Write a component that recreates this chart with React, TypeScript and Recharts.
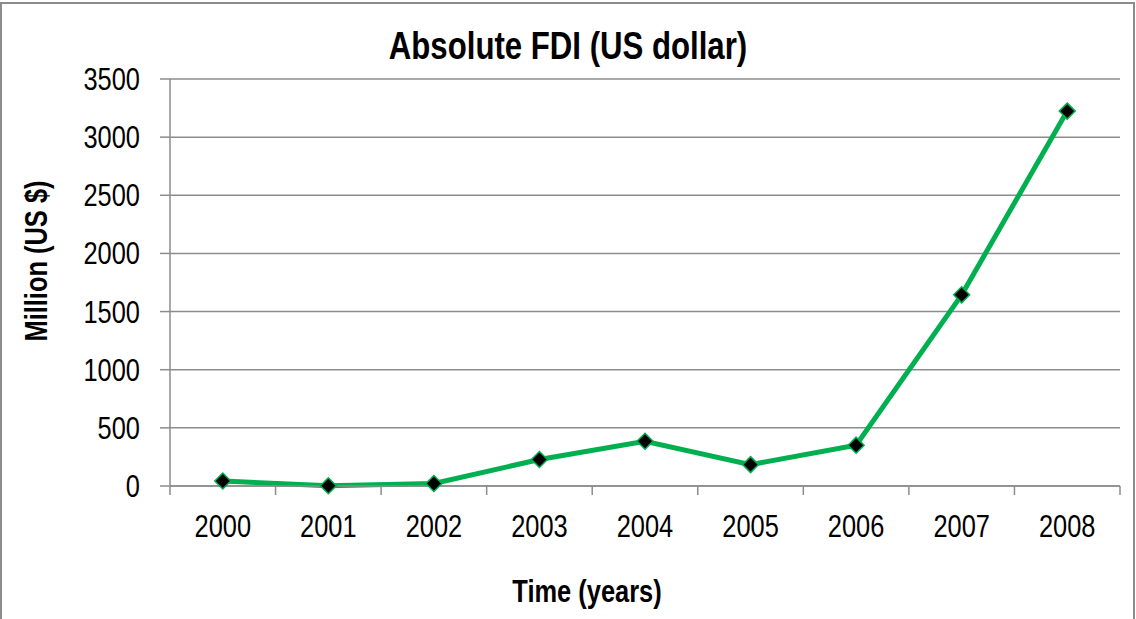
import { LineChart, Line, XAxis, YAxis, CartesianGrid } from "recharts";

const years = ["2000", "2001", "2002", "2003", "2004", "2005", "2006", "2007", "2008"];
const fdi = [43, 2, 21, 228, 385, 184, 351, 1644, 3224];
const yTicks = [0, 500, 1000, 1500, 2000, 2500, 3000, 3500];

const rows = years.map((year, i) => ({ year, pos: i + 0.5, fdi: fdi[i] }));
// tick marks at category edges, labels at category centres
const xTicks = years
  .flatMap((_, i) => [i, i + 0.5])
  .concat([years.length]);

// no narrow font installed, so squeeze Liberation Sans like Arial Narrow
const FONT = "'Liberation Sans', Arial, sans-serif";
const NARROW = 0.82;
const GREY = "#8c8c8c";
const GREEN = "#00B050";

const XTick = (props: any) => {
  const { x, y, payload } = props;
  const v = payload.value as number;
  if (Number.isInteger(v)) {
    return <line x1={x} x2={x} y1={y} y2={y + 9} stroke={GREY} strokeWidth={1.5} />;
  }
  return (
    <text
      transform={`translate(${x},${y + 51}) scale(${NARROW},1)`}
      textAnchor="middle" fill="#000" fontSize={31} fontFamily={FONT}
    >
      {years[Math.floor(v)]}
    </text>
  );
};

const YTick = (props: any) => {
  const { x, y, payload } = props;
  return (
    <text
      transform={`translate(${x},${y + 11}) scale(${NARROW},1)`}
      textAnchor="end" fill="#000" fontSize={31} fontFamily={FONT}
    >
      {payload.value}
    </text>
  );
};

const Diamond = (props: any) => {
  const { cx, cy, index } = props;
  if (cx == null || cy == null) return null;
  const r = 8;
  return (
    <polygon
      key={index}
      points={`${cx},${cy - r} ${cx + r},${cy} ${cx},${cy + r} ${cx - r},${cy}`}
      fill="#000"
      stroke={GREEN}
      strokeWidth={1.5}
    />
  );
};

const boldText = {
  position: "absolute" as const,
  whiteSpace: "nowrap" as const,
  fontFamily: FONT,
  fontWeight: "bold" as const,
  color: "#000",
};

export default function App() {
  return (
    <div style={{ position: "absolute", left: 0, top: 0, width: 1136, height: 619, overflow: "hidden", background: "#fff" }}>
      <div
        style={{
          position: "absolute", left: 0, top: 1.5, width: 1135, height: 660,
          border: `2px solid ${GREY}`, boxSizing: "border-box",
        }}
      />
      <LineChart width={1136} height={619} data={rows} margin={{ top: 79, right: 16, left: 0, bottom: 0 }}>
        <CartesianGrid vertical={false} stroke={GREY} strokeWidth={1.5} />
        <XAxis
          dataKey="pos"
          type="number"
          domain={[0, years.length]}
          ticks={xTicks}
          interval={0}
          height={133}
          tickSize={0}
          tickMargin={0}
          tickLine={false}
          tick={<XTick />}
          axisLine={{ stroke: GREY, strokeWidth: 1.5 }}
        />
        <YAxis
          domain={[0, 3500]}
          ticks={yTicks}
          interval={0}
          width={170}
          tickSize={10}
          tickMargin={20}
          tickLine={{ stroke: GREY, strokeWidth: 1.5 }}
          axisLine={{ stroke: GREY, strokeWidth: 1.5 }}
          tick={<YTick />}
        />
        <Line
          type="linear"
          dataKey="fdi"
          stroke={GREEN}
          strokeWidth={5}
          dot={<Diamond />}
          activeDot={false}
          isAnimationActive={false}
        />
      </LineChart>
      <div
        style={{
          ...boldText, left: 568, top: 24, fontSize: 38, lineHeight: "44px",
          transform: `translateX(-50%) scaleX(${NARROW})`,
        }}
      >
        Absolute FDI (US dollar)
      </div>
      <div
        style={{
          ...boldText, left: 37, top: 261, fontSize: 31, lineHeight: "36px",
          transform: `translate(-50%, -50%) rotate(-90deg) scaleX(${NARROW})`,
        }}
      >
        Million (US $)
      </div>
      <div
        style={{
          ...boldText, left: 587, top: 574, fontSize: 31, lineHeight: "36px",
          transform: `translateX(-50%) scaleX(${NARROW})`,
        }}
      >
        Time (years)
      </div>
    </div>
  );
}
